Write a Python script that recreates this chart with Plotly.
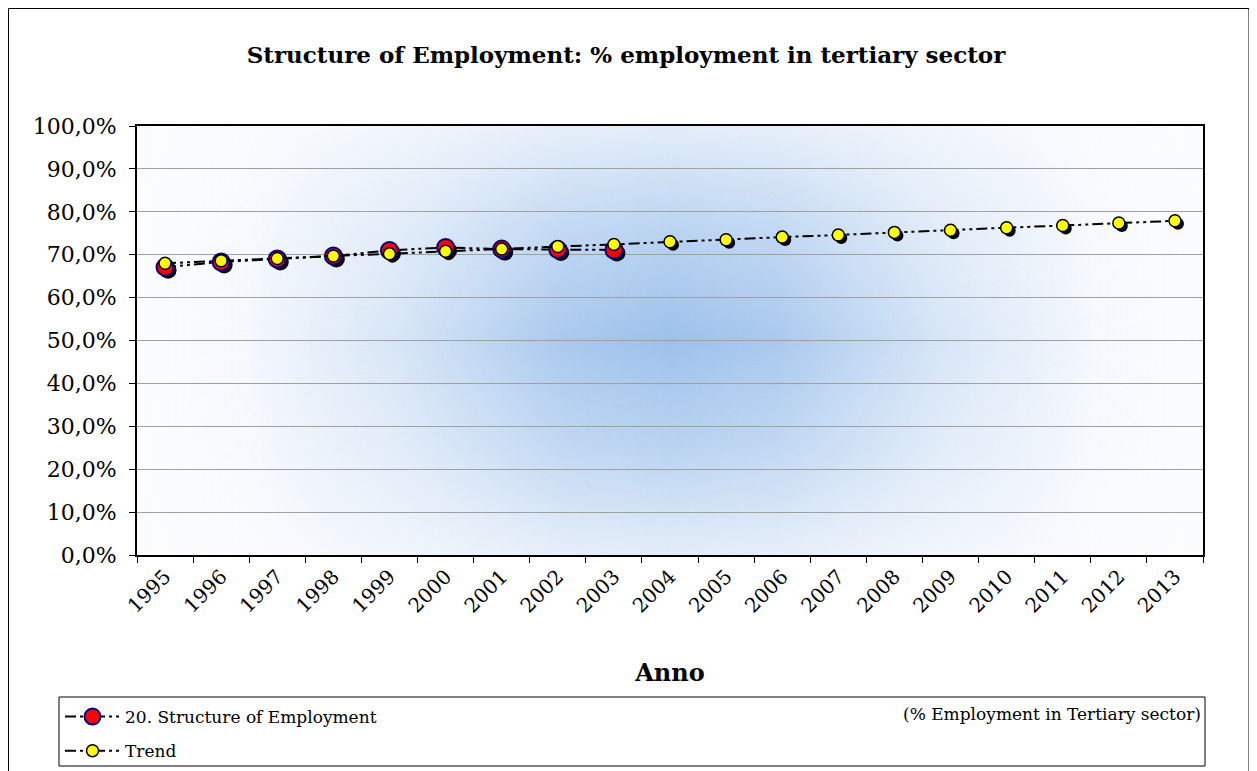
import base64
import plotly.graph_objects as go

# ---------------- data ----------------
years = [str(y) for y in range(1995, 2014)]
actual_years = years[:9]
actual_values = [67.1, 68.3, 69.0, 69.7, 71.0, 71.7, 71.3, 71.2, 71.1]
trend_values = [68.0, 68.6, 69.1, 69.7, 70.2, 70.8, 71.3, 71.9, 72.4, 73.0,
                73.5, 74.1, 74.6, 75.2, 75.7, 76.3, 76.8, 77.4, 77.9]
y_ticks = list(range(0, 101, 10))
y_tick_labels = [f"{v},0%" for v in y_ticks]

title_text = "Structure of Employment: % employment in tertiary sector"
series1_name = "20. Structure of Employment"
series1_unit = "(% Employment in Tertiary sector)"
series2_name = "Trend"
x_title = "Anno"

# ---------------- layout constants (pixels, reference coords) ----------------
OFF = 8  # page body margin
W, H = 1257 - OFF, 771 - OFF
L, R, T, B = 137 - OFF, 1257 - 1206, 126 - OFF, 771 - 558
PW, PH = W - L - R, H - T - B
SH = 3  # marker shadow offset


def fx(p):
    return (p - OFF - L) / PW


def fy(p):
    return (H - B - (p - OFF)) / PH


def cx(p):
    return (p - OFF) / W


def cy(p):
    return 1 - (p - OFF) / H


FONT = "DejaVu Serif"

# background gradient (style only)
BLUE = "#9DC1EB"
svg = f"""<svg xmlns='http://www.w3.org/2000/svg' width='1066' height='429' viewBox='0 0 1066 429' preserveAspectRatio='none'>
<defs>
<linearGradient id='h' x1='0' y1='0' x2='1' y2='0'>
<stop offset='0' stop-color='{BLUE}' stop-opacity='0'/>
<stop offset='0.1' stop-color='{BLUE}' stop-opacity='0.06'/>
<stop offset='0.25' stop-color='{BLUE}' stop-opacity='0.4'/>
<stop offset='0.4' stop-color='{BLUE}' stop-opacity='0.88'/>
<stop offset='0.5' stop-color='{BLUE}' stop-opacity='1'/>
<stop offset='0.6' stop-color='{BLUE}' stop-opacity='0.88'/>
<stop offset='0.75' stop-color='{BLUE}' stop-opacity='0.4'/>
<stop offset='0.9' stop-color='{BLUE}' stop-opacity='0.06'/>
<stop offset='1' stop-color='{BLUE}' stop-opacity='0'/>
</linearGradient>
<linearGradient id='v' x1='0' y1='0' x2='0' y2='1'>
<stop offset='0' stop-color='white' stop-opacity='0.25'/>
<stop offset='0.25' stop-color='white' stop-opacity='0.7'/>
<stop offset='0.5' stop-color='white' stop-opacity='1'/>
<stop offset='0.75' stop-color='white' stop-opacity='0.7'/>
<stop offset='1' stop-color='white' stop-opacity='0.25'/>
</linearGradient>
<mask id='m' style='mask-type:alpha' mask-type='alpha'><rect width='1066' height='429' fill='url(#v)'/></mask>
</defs>
<rect width='1066' height='429' fill='#fbfcfe'/>
<rect width='1066' height='429' fill='url(#h)' mask='url(#m)'/>
</svg>"""
svg_uri = "data:image/svg+xml;base64," + base64.b64encode(svg.encode()).decode()

dash_pat = "11px,4px,3px,4px,3px,4px"

fig = go.Figure()

# subplot 1: visible axes (invisible helper trace so categories exist)
fig.add_trace(go.Scatter(x=years, y=trend_values, mode="markers",
                         marker=dict(opacity=0), showlegend=False,
                         hoverinfo="skip", xaxis="x", yaxis="y"))

# subplot 2: shadows
fig.add_trace(go.Scatter(x=actual_years, y=actual_values, mode="markers",
                         marker=dict(size=17, color="black",
                                     line=dict(width=0)),
                         showlegend=False, hoverinfo="skip",
                         xaxis="x2", yaxis="y2"))
fig.add_trace(go.Scatter(x=years, y=trend_values, mode="markers",
                         marker=dict(size=12, color="black",
                                     line=dict(width=0)),
                         showlegend=False, hoverinfo="skip",
                         xaxis="x2", yaxis="y2"))

# subplot 3: main series
fig.add_trace(go.Scatter(x=actual_years, y=actual_values, mode="lines+markers",
                         name=series1_name, legendgroup="a",
                         line=dict(color="black", width=2, dash=dash_pat),
                         marker=dict(size=17, color="#FF0000",
                                     line=dict(color="#000080", width=2)),
                         xaxis="x3", yaxis="y3"))
fig.add_trace(go.Scatter(x=years, y=trend_values, mode="lines+markers",
                         name=series2_name, legendgroup="b",
                         line=dict(color="black", width=2, dash=dash_pat),
                         marker=dict(size=12, color="#FFFF00",
                                     line=dict(color="black", width=1.5)),
                         xaxis="x3", yaxis="y3"))

main_xdom = [0, fx(1203)]
main_ydom = [fy(555), 1]
sh_xdom = [fx(137 + SH), 1]
sh_ydom = [0, fy(126 + SH)]

xr = [-0.5, len(years) - 0.5]
yr = [0, 100]

hidden_x = dict(type="category", categoryorder="array", categoryarray=years,
                range=xr, visible=False, fixedrange=True, automargin=False)
hidden_y = dict(range=yr, visible=False, fixedrange=True, automargin=False)

fig.update_layout(
    width=W, height=H,
    margin=dict(l=L, r=R, t=T, b=B, pad=0, autoexpand=False),
    paper_bgcolor="white",
    plot_bgcolor="rgba(0,0,0,0)",
    separators=",.",
    font=dict(family=FONT, color="black", size=16),
    title=dict(text=f"<b>{title_text}</b>", x=cx(626), xref="container",
               xanchor="center", y=cy(55), yref="container",
               yanchor="middle", font=dict(family=FONT, size=23, color="black")),
    xaxis=dict(type="category", categoryorder="array", categoryarray=years,
               range=xr, domain=main_xdom, anchor="y", automargin=False,
               showline=True, linecolor="black", linewidth=2, mirror=True,
               ticks="outside", tickson="boundaries", ticklen=6,
               tickcolor="black", tickwidth=1, tickangle=-45,
               showgrid=False, tickfont=dict(family=FONT, size=20),
               title=dict(text=f"<b>{x_title}</b>", standoff=48,
                          font=dict(family=FONT, size=24)),
               fixedrange=True),
    yaxis=dict(range=yr, domain=main_ydom, anchor="x", automargin=False,
               tickmode="array", tickvals=y_ticks, ticktext=y_tick_labels,
               showline=True, linecolor="black", linewidth=2, mirror=True,
               ticks="outside", ticklen=6, tickcolor="black",
               ticklabelstandoff=8,
               showgrid=True, gridcolor="#A0A0A0", gridwidth=1,
               zeroline=False, tickfont=dict(family=FONT, size=22),
               fixedrange=True),
    xaxis2=dict(hidden_x, domain=sh_xdom, anchor="y2"),
    yaxis2=dict(hidden_y, domain=sh_ydom, anchor="x2"),
    xaxis3=dict(hidden_x, domain=main_xdom, anchor="y3"),
    yaxis3=dict(hidden_y, domain=main_ydom, anchor="x3"),
    legend=dict(x=cx(60), y=cy(699), xref="container", yref="container",
                xanchor="left", yanchor="top",
                bgcolor="rgba(0,0,0,0)", borderwidth=0,
                font=dict(family=FONT, size=17), tracegroupgap=9,
                traceorder="grouped", itemwidth=55),
    showlegend=True,
    images=[dict(source=svg_uri, xref="paper", yref="paper",
                 x=main_xdom[0], y=main_ydom[1],
                 sizex=main_xdom[1] - main_xdom[0],
                 sizey=main_ydom[1] - main_ydom[0],
                 xanchor="left", yanchor="top", sizing="stretch",
                 layer="below")],
    shapes=[
        # outer chart border
        dict(type="rect", xref="paper", yref="paper",
             x0=fx(8.5), x1=fx(1249), y0=fy(780), y1=fy(8.5),
             line=dict(color="black", width=1), fillcolor="rgba(0,0,0,0)"),
        # legend box
        dict(type="rect", xref="paper", yref="paper",
             x0=fx(59), x1=fx(1205), y0=fy(766), y1=fy(697),
             line=dict(color="black", width=1), fillcolor="white",
             layer="below"),
    ],
    annotations=[
        dict(text=series1_unit, xref="paper", yref="paper",
             x=fx(1203), y=fy(714), xanchor="right", yanchor="middle",
             showarrow=False, font=dict(family=FONT, size=17, color="black")),
    ],
)

fig.write_html("out.html")
